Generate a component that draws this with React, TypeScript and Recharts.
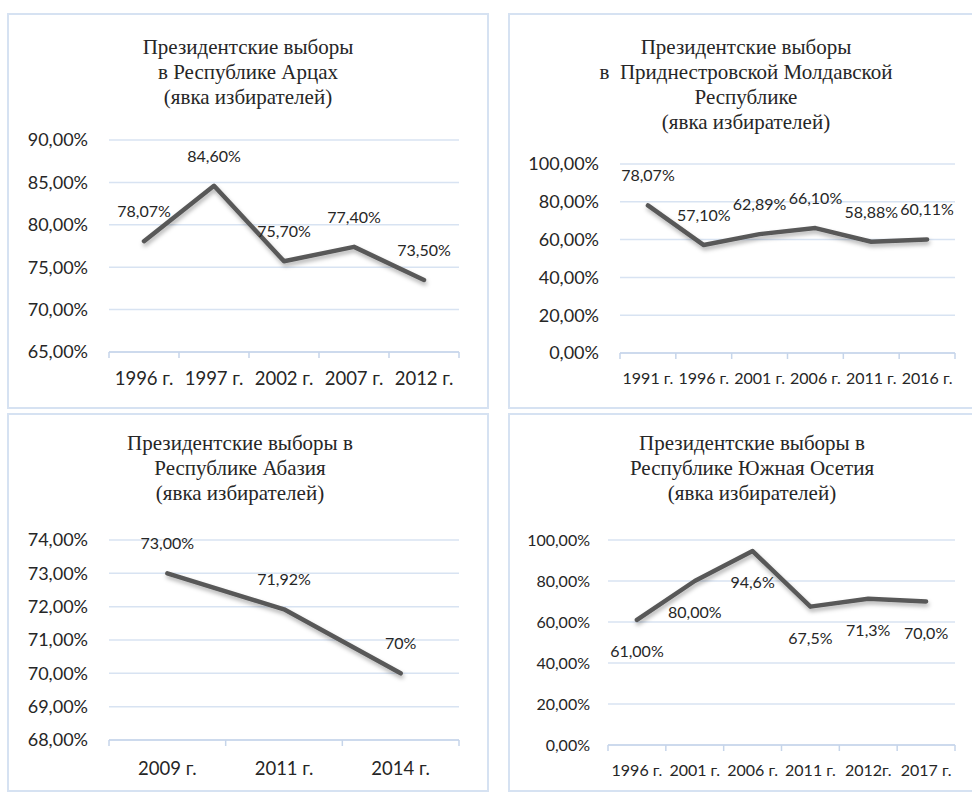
import * as React from "react";
import { CartesianGrid, LabelList, Line, LineChart, XAxis, YAxis } from "recharts";

// --- data ---
const artsakhYears = ["1996 г.", "1997 г.", "2002 г.", "2007 г.", "2012 г."];
const artsakhTurnout = [78.07, 84.6, 75.7, 77.4, 73.5];
const artsakhLabels = ["78,07%", "84,60%", "75,70%", "77,40%", "73,50%"];
const artsakhTicks = [65, 70, 75, 80, 85, 90];

const pmrYears = ["1991 г.", "1996 г.", "2001 г.", "2006 г.", "2011 г.", "2016 г."];
const pmrTurnout = [78.07, 57.1, 62.89, 66.1, 58.88, 60.11];
const pmrLabels = ["78,07%", "57,10%", "62,89%", "66,10%", "58,88%", "60,11%"];
const pmrTicks = [0, 20, 40, 60, 80, 100];

const abkhaziaYears = ["2009 г.", "2011 г.", "2014 г."];
const abkhaziaTurnout = [73, 71.92, 70];
const abkhaziaLabels = ["73,00%", "71,92%", "70%"];
const abkhaziaTicks = [68, 69, 70, 71, 72, 73, 74];

const ossetiaYears = ["1996 г.", "2001 г.", "2006 г.", "2011 г.", "2012г.", "2017 г."];
const ossetiaTurnout = [61, 80, 94.6, 67.5, 71.3, 70.0];
const ossetiaLabels = ["61,00%", "80,00%", "94,6%", "67,5%", "71,3%", "70,0%"];
const ossetiaTicks = [0, 20, 40, 60, 80, 100];

const GRID = "#d8e3f2";
const AXIS = "#c6d5ea";
const BORDER = "#d6e2f2";
const LINE = "#595959";
const INK = "#262626";
const SANS = "Lato, 'Open Sans', sans-serif";
const SERIF = "'Liberation Serif', 'Times New Roman', serif";

type PanelSpec = {
  id: string;
  left: number;
  top: number;
  width: number;
  height: number;
  title: string[];
  titleX: number;
  titleY: number;
  names: string[];
  values: number[];
  labels: string[];
  yTicks: number[];
  plot: { left: number; right: number; top: number; bottom: number };
  yGap: number;
  xLabelDy: number;
  yFont: number;
  xFont: number;
  labelPos: "top" | "bottom";
};

const panels: PanelSpec[] = [
  {
    id: "artsakh",
    left: 7, top: 13, width: 482, height: 396,
    title: ["Президентские выборы", "в Республике Арцах", "(явка избирателей)"],
    titleX: 241, titleY: 34,
    names: artsakhYears, values: artsakhTurnout, labels: artsakhLabels, yTicks: artsakhTicks,
    plot: { left: 102, right: 452, top: 127, bottom: 339 },
    yGap: 21, xLabelDy: 26, yFont: 18, xFont: 18.5, labelPos: "top",
  },
  {
    id: "pmr",
    left: 508, top: 13, width: 476, height: 396,
    title: ["Президентские выборы", "в  Приднестровской Молдавской", "Республике", "(явка избирателей)"],
    titleX: 238, titleY: 34,
    names: pmrYears, values: pmrTurnout, labels: pmrLabels, yTicks: pmrTicks,
    plot: { left: 112, right: 447, top: 151, bottom: 340 },
    yGap: 21, xLabelDy: 24, yFont: 18, xFont: 16, labelPos: "top",
  },
  {
    id: "abkhazia",
    left: 7, top: 413, width: 482, height: 379,
    title: ["Президентские выборы в", "Республике Абазия", "(явка избирателей)"],
    titleX: 233, titleY: 30,
    names: abkhaziaYears, values: abkhaziaTurnout, labels: abkhaziaLabels, yTicks: abkhaziaTicks,
    plot: { left: 102, right: 452, top: 127, bottom: 327 },
    yGap: 21, xLabelDy: 28, yFont: 18, xFont: 18.5, labelPos: "top",
  },
  {
    id: "ossetia",
    left: 508, top: 413, width: 476, height: 379,
    title: ["Президентские выборы в", "Республике Южная Осетия", "(явка избирателей)"],
    titleX: 244, titleY: 30,
    names: ossetiaYears, values: ossetiaTurnout, labels: ossetiaLabels, yTicks: ossetiaTicks,
    plot: { left: 100, right: 447, top: 127, bottom: 332 },
    yGap: 18, xLabelDy: 24, yFont: 16, xFont: 16, labelPos: "bottom",
  },
];

const fmtPct = (v: number) => `${v.toFixed(2).replace(".", ",")}%`;

function CategoryTick(props: any) {
  const { x, y, payload, names, fontSize, dy } = props;
  const v = payload?.value as number;
  if (Number.isInteger(v)) {
    return <line x1={x} x2={x} y1={y} y2={y + 6} stroke={AXIS} strokeWidth={1.5} />;
  }
  return (
    <text
      x={x}
      y={y + dy}
      textAnchor="middle"
      dominantBaseline="central"
      fill={INK}
      fontSize={fontSize}
      fontFamily={SANS}
    >
      {names[Math.floor(v)]}
    </text>
  );
}

function TurnoutPanel({ p }: { p: PanelSpec }) {
  const n = p.names.length;
  const data = p.values.map((v, i) => ({ pos: i + 0.5, value: v, label: p.labels[i] }));
  const xTicks = Array.from({ length: 2 * n + 1 }, (_, k) => k / 2);
  const yMin = p.yTicks[0];
  const yMax = p.yTicks[p.yTicks.length - 1];

  return (
    <div style={{ position: "absolute", left: p.left, top: p.top, width: p.width, height: p.height }}>
      <div
        style={{
          position: "absolute",
          inset: 0,
          border: `2px solid ${BORDER}`,
          boxSizing: "border-box",
        }}
      />
      <div
        style={{
          position: "absolute",
          left: p.titleX - 200,
          width: 400,
          top: p.titleY - 12.5,
          textAlign: "center",
          fontFamily: SERIF,
          fontSize: 21,
          lineHeight: "25px",
          color: INK,
          whiteSpace: "pre",
        }}
      >
        {p.title.map((t) => (
          <div key={t}>{t}</div>
        ))}
      </div>
      <div style={{ position: "absolute", left: 0, top: 0 }}>
        <LineChart
          width={p.width}
          height={p.height}
          data={data}
          margin={{ top: p.plot.top, right: p.width - p.plot.right, left: 0, bottom: 0 }}
        >
          <defs>
            <filter id={`shadow-${p.id}`} x="-10%" y="-30%" width="120%" height="160%">
              <feDropShadow dx="1" dy="3" stdDeviation="2" floodColor="#000" floodOpacity="0.3" />
            </filter>
          </defs>
          <CartesianGrid vertical={false} stroke={GRID} strokeWidth={1.5} />
          <XAxis
            dataKey="pos"
            type="number"
            domain={[0, n]}
            ticks={xTicks}
            interval={0}
            height={p.height - p.plot.bottom}
            axisLine={{ stroke: AXIS, strokeWidth: 1.5 }}
            tickLine={false}
            tickSize={0}
            tickMargin={0}
            tick={<CategoryTick names={p.names} fontSize={p.xFont} dy={p.xLabelDy} />}
          />
          <YAxis
            type="number"
            domain={[yMin, yMax]}
            ticks={p.yTicks}
            interval={0}
            width={p.plot.left}
            axisLine={false}
            tickLine={false}
            tickSize={0}
            tickMargin={p.yGap}
            tickFormatter={fmtPct}
            tick={{ fill: INK, fontSize: p.yFont, fontFamily: SANS }}
          />
          <Line
            dataKey="value"
            stroke={LINE}
            strokeWidth={4.5}
            strokeLinecap="round"
            strokeLinejoin="round"
            dot={false}
            filter={`url(#shadow-${p.id})`}
            isAnimationActive={false}
          >
            <LabelList
              dataKey="label"
              position={p.labelPos}
              offset={p.labelPos === "top" ? 24 : 26}
              fill={INK}
              fontSize={16}
              fontFamily={SANS}
            />
          </Line>
        </LineChart>
      </div>
    </div>
  );
}

export default function App() {
  return (
    <div
      style={{
        position: "fixed",
        left: 0,
        top: 0,
        width: 972,
        height: 792,
        overflow: "hidden",
        background: "#fff",
      }}
    >
      {panels.map((p) => (
        <TurnoutPanel key={p.id} p={p} />
      ))}
    </div>
  );
}
